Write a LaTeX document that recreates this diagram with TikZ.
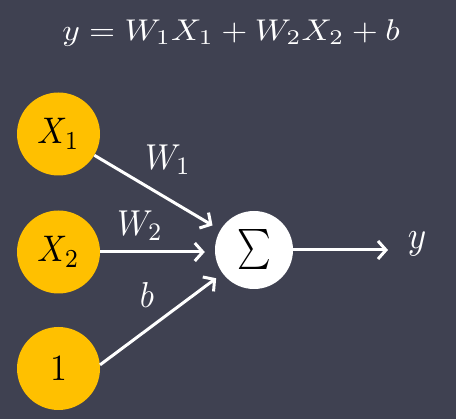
\documentclass[tikz,border=0pt]{standalone}
\usepackage{amsmath}
\usetikzlibrary{arrows.meta}
\definecolor{bg}{RGB}{63,65,81}
\definecolor{gold}{RGB}{255,192,0}
\begin{document}
\begin{tikzpicture}[x=1pt,y=-1pt,
  inp/.style={circle,fill=gold,minimum size=83pt,inner sep=0pt},
  sumnode/.style={circle,fill=white,minimum size=78pt,inner sep=0pt},
  conn/.style={white,line width=3pt,-{Straight Barb[length=8pt,width=18pt]}},
  lbl/.style={white,inner sep=0pt}]
\fill[bg] (0,0) rectangle (456,419);
\useasboundingbox (0,0) rectangle (456,419);
\node[white,inner sep=0pt] (eq) at (231,33) {\scalebox{3.35}[3.0]{$y=W_1X_1+W_2X_2+b$}};
\node[inp] (x1) at (58.5,134) {\scalebox{3.3}[3.7]{$X_1$}};
\node[inp] (x2) at (58.5,252) {\scalebox{3.3}[3.7]{$X_2$}};
\node[inp] (one) at (58.5,368.5) {\scalebox{3.3}[3.7]{$1$}};
\node[sumnode] (sum) at (254,250) {\scalebox{3.2}[4.0]{$\sum$}};
\coordinate (yend) at (388,250);
\node[lbl] (y) at (417,244) {\scalebox{3.5}[3.9]{$y$}};
\draw[conn,shorten >=9pt] (x1) -- (sum);
\draw[conn,shorten >=10pt] (x2) -- (x2 -| sum.west);
\draw[conn,shorten >=8pt] (one.5) -- (sum);
\draw[conn] (sum) -- (yend);
\node[lbl] (w1) at (168,160) {\scalebox{3.3}[3.6]{$W_1$}};
\node[lbl] (w2) at (140,226) {\scalebox{3.3}[3.6]{$W_2$}};
\node[lbl] (b) at (147,295) {\scalebox{3.3}[3.6]{$b$}};
\end{tikzpicture}
\end{document}
